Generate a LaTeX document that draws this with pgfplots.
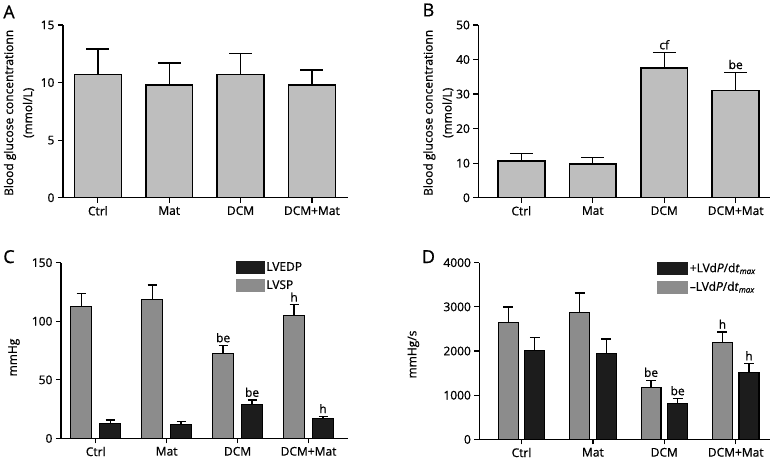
\documentclass[border=0pt]{standalone}
\usepackage{fontspec}
\setmainfont{Open Sans}[FakeBold=0.8]
\usepackage{pgfplots}
\pgfplotsset{compat=1.18}

\definecolor{barlight}{RGB}{190,190,190}
\definecolor{bargray}{RGB}{140,140,140}
\definecolor{barblack}{RGB}{28,28,28}

\newcommand{\tf}{\fontsize{12}{14}\selectfont}

\pgfplotsset{
  panel/.style={
    scale only axis, clip=false,
    axis x line*=bottom, axis y line*=left,
    axis line style={line width=1.4pt},
    tick style={line width=1.2pt, black},
    major tick length=5pt, tick align=outside,
    xtick={0,1,2,3}, xticklabels={Ctrl,Mat,DCM,DCM+Mat},
    ymin=0,
    tick label style={font=\tf},
    /pgf/number format/assume math mode=true,
    /pgf/number format/1000 sep={},
    error bars/y dir=plus, error bars/y explicit,
    error bars/error bar style={line width=1.3pt, black},
  },
}

\begin{document}
\begin{tikzpicture}[x=1pt, y=1pt]
\path (0,0) rectangle (777,462);

% panel A
\begin{axis}[panel, at={(62pt,264pt)}, anchor=south west, width=285pt, height=173pt,
  xmin=-0.49, xmax=3.5, ymax=15, ytick={0,5,10,15}, bar width=47pt,
  error bars/error mark options={rotate=90, mark size=11.5pt, line width=1.3pt}]
\addplot[ybar, bar shift=0pt, fill=barlight, draw=black, line width=1.5pt] coordinates {
  (0,10.7) +- (0,2.2) (1,9.8) +- (0,1.9) (2,10.7) +- (0,1.8) (3,9.8) +- (0,1.3)};
\end{axis}

% panel B
\begin{axis}[panel, at={(478pt,264pt)}, anchor=south west, width=292pt, height=173pt,
  xmin=-0.6, xmax=3.48, ymax=50, ytick={0,10,20,30,40,50}, bar width=47pt,
  error bars/error mark options={rotate=90, mark size=11.5pt, line width=1.3pt}]
\addplot[ybar, bar shift=0pt, fill=barlight, draw=black, line width=1.5pt] coordinates {
  (0,10.7) +- (0,2.2) (1,9.8) +- (0,1.9) (2,37.5) +- (0,4.5) (3,31.0) +- (0,5.3)};
\node[above, font=\tf, inner sep=3pt] at (axis cs:2,42) {cf};
\node[above, font=\tf, inner sep=3pt] at (axis cs:3,36.3) {be};
\end{axis}

% panel C
\begin{axis}[panel, at={(60pt,23pt)}, anchor=south west, width=287pt, height=176pt,
  xmin=-0.49, xmax=3.55, ymax=150, ytick={0,50,100,150}, bar width=21pt,
  error bars/error mark options={rotate=90, mark size=4.5pt, line width=1.3pt},
  legend style={at={(rel axis cs:0.61,1.015)}, anchor=north west, draw=none, fill=none,
    inner sep=0pt, row sep=4pt, font=\tf, cells={anchor=west}}]
\addlegendimage{legend image code/.code={\fill[barblack] (0pt,-6pt) rectangle (28pt,6pt);}}
\addlegendentry{LVEDP}
\addlegendimage{legend image code/.code={\fill[bargray] (0pt,-6pt) rectangle (28pt,6pt);}}
\addlegendentry{LVSP}
\addplot[ybar, bar shift=0pt, fill=bargray, draw=black, line width=1.1pt, forget plot] coordinates {
  (-0.204,112.8) +- (0,10.8) (0.796,118.5) +- (0,12.5) (1.796,72.5) +- (0,6.8) (2.796,105) +- (0,9)};
\addplot[ybar, bar shift=0pt, fill=barblack, draw=black, line width=1.1pt, forget plot] coordinates {
  (0.204,12.5) +- (0,3.1) (1.204,12) +- (0,2.2) (2.204,29) +- (0,3.7) (3.204,16.8) +- (0,2)};
\node[above, font=\tf, inner sep=3pt] at (axis cs:1.796,79.3) {be};
\node[above, font=\tf, inner sep=3pt] at (axis cs:2.204,32.7) {be};
\node[above, font=\tf, inner sep=3pt] at (axis cs:2.796,114) {h};
\node[above, font=\tf, inner sep=3pt] at (axis cs:3.204,18.8) {h};
\end{axis}

% panel D
\begin{axis}[panel, at={(479pt,22pt)}, anchor=south west, width=291pt, height=177pt,
  xmin=-0.59, xmax=3.48, ymax=4000, ytick={0,1000,2000,3000,4000}, bar width=20pt,
  error bars/error mark options={rotate=90, mark size=5pt, line width=1.3pt},
  legend style={at={(rel axis cs:0.612,1.01)}, anchor=north west, draw=none, fill=none,
    inner sep=0pt, row sep=4pt, font=\tf, cells={anchor=west}}]
\addlegendimage{legend image code/.code={\fill[barblack] (0pt,-6pt) rectangle (30pt,6pt);}}
\addlegendentry{+LVd\textit{P}/d\textit{t}\textsubscript{\textit{max}}}
\addlegendimage{legend image code/.code={\fill[bargray] (0pt,-6pt) rectangle (30pt,6pt);}}
\addlegendentry{–LVd\textit{P}/d\textit{t}\textsubscript{\textit{max}}}
\addplot[ybar, bar shift=0pt, fill=bargray, draw=black, line width=1.1pt, forget plot] coordinates {
  (-0.186,2637) +- (0,362) (0.814,2863) +- (0,452) (1.814,1183) +- (0,158) (2.814,2185) +- (0,248)};
\addplot[ybar, bar shift=0pt, fill=barblack, draw=black, line width=1.1pt, forget plot] coordinates {
  (0.186,2011) +- (0,301) (1.186,1943) +- (0,332) (2.186,806) +- (0,120) (3.186,1522) +- (0,195)};
\node[above, font=\tf, inner sep=3pt] at (axis cs:1.814,1341) {be};
\node[above, font=\tf, inner sep=3pt] at (axis cs:2.186,926) {be};
\node[above, font=\tf, inner sep=3pt] at (axis cs:2.814,2433) {h};
\node[above, font=\tf, inner sep=3pt] at (axis cs:3.186,1717) {h};
\end{axis}

% axis titles
\node[rotate=90, align=center, font=\fontsize{12}{19}\selectfont] at (18,349)
  {Blood glucose concentrationn\\(mmol/L)};
\node[rotate=90, align=center, font=\fontsize{12}{19}\selectfont] at (438,349)
  {Blood glucose concentrationn\\(mmol/L)};
\node[rotate=90, font=\tf] at (13,104) {mmHg};
\node[rotate=90, font=\tf] at (413,107) {mmHg/s};

% panel letters
\node[font=\fontsize{18}{18}\selectfont] at (8,450) {A};
\node[font=\fontsize{18}{18}\selectfont] at (428,452) {B};
\node[font=\fontsize{18}{18}\selectfont] at (8,205) {C};
\node[font=\fontsize{18}{18}\selectfont] at (428,205) {D};
\end{tikzpicture}
\end{document}
